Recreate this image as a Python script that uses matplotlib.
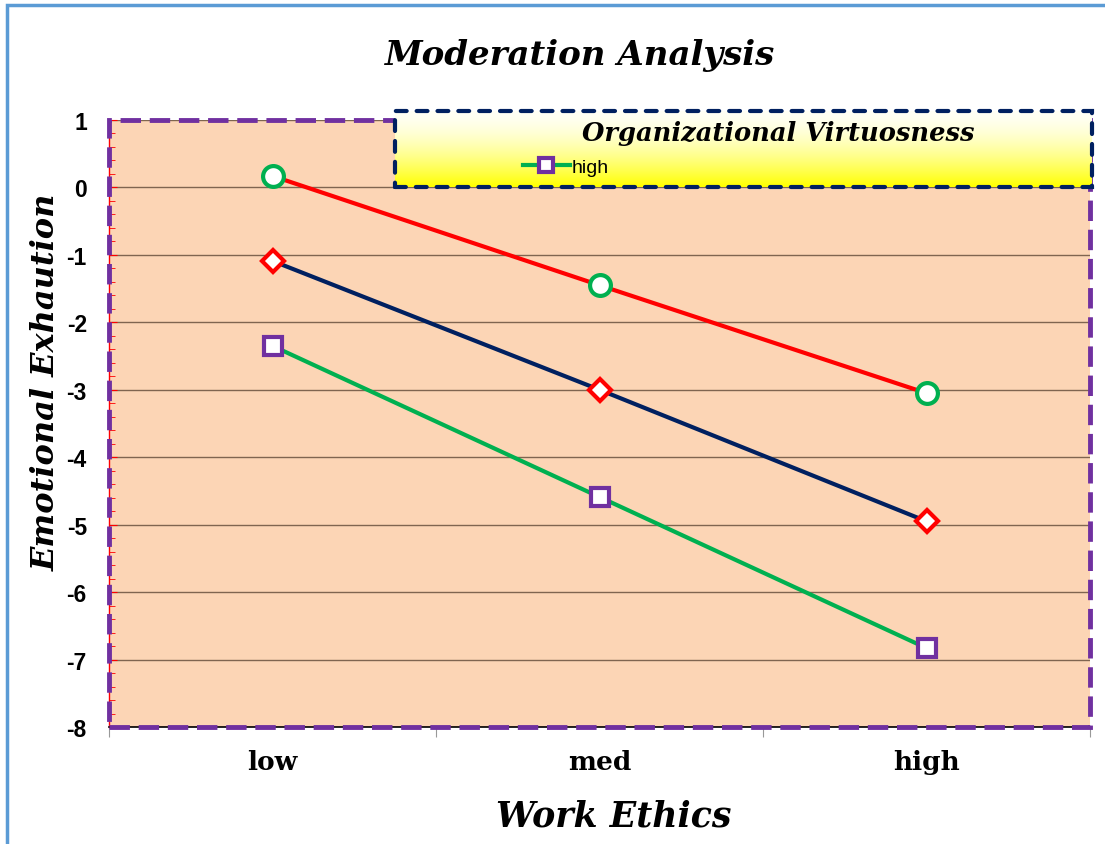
import matplotlib.pyplot as plt
import matplotlib.patches as patches
from matplotlib.colors import LinearSegmentedColormap
import numpy as np

# data
categories = ['low', 'med', 'high']
series_circle = [0.17, -1.45, -3.05]
series_diamond = [-1.09, -3.0, -4.95]
series_square = [-2.35, -4.59, -6.83]
y_ticks = [1, 0, -1, -2, -3, -4, -5, -6, -7, -8]
legend_title = 'Organizational Virtuosness'
legend_label = 'high'

serif = 'DejaVu Serif'
sans = 'Liberation Sans'

fig = plt.figure(figsize=(11.05, 8.45), dpi=100)
ax = fig.add_axes([109/1105, 1-728/845, (1090-109)/1105, (728-121)/845])
ax.set_facecolor('#FCD5B5')

x = np.arange(1, len(categories)+1)
ax.plot(x, series_circle, color='#FF0000', lw=3, marker='o', ms=15,
        mfc='white', mec='#00B050', mew=3, zorder=5)
ax.plot(x, series_diamond, color='#002060', lw=3, marker='D', ms=11.5,
        mfc='white', mec='#FF0000', mew=3, zorder=5)
sq, = ax.plot(x, series_square, color='#00B050', lw=3, marker='s', ms=13.5,
              mfc='white', mec='#7030A0', mew=3, zorder=5)

ax.set_xlim(0.5, 3.5)
ax.set_ylim(-8, 1)
ax.set_yticks(y_ticks)
ax.set_yticklabels([str(v) for v in y_ticks], fontfamily=sans, fontweight='bold', fontsize=16.5)
ax.set_yticks(np.arange(-8, 1.01, 0.2), minor=True)
ax.tick_params(axis='y', which='major', direction='in', length=6, color='#FF0000', pad=16)
ax.tick_params(axis='y', which='minor', direction='in', length=4, color='#FF0000')
ax.grid(axis='y', color='#7F6550', lw=1)
ax.set_axisbelow(True)

# category labels on minor ticks, boundaries on major ticks
ax.set_xticks([0.5, 1.5, 2.5, 3.5])
ax.set_xticklabels([])
ax.set_xticks(x, minor=True)
ax.set_xticklabels(categories, minor=True, fontfamily=serif, fontweight='bold', fontsize=19)
ax.tick_params(axis='x', which='major', direction='out', length=7, color='#999999')
ax.tick_params(axis='x', which='minor', length=0, pad=16)

for s in ['top', 'right']:
    ax.spines[s].set_visible(False)
ax.spines['left'].set_color('#FF0000')
ax.spines['left'].set_linewidth(1)
ax.spines['bottom'].set_color('black')
ax.spines['bottom'].set_linewidth(1.2)

# dashed purple plot-area border
ax.add_patch(patches.Rectangle((0, 0), 1, 1, transform=ax.transAxes, fill=False,
                               edgecolor='#7030A0', lw=3.5, ls=(0, (4.2, 1.8)),
                               clip_on=False, zorder=6))

ax.set_ylabel('Emotional Exhaution', fontfamily=serif, fontweight='bold',
              fontstyle='italic', fontsize=23)
ax.yaxis.set_label_coords(-0.048, 0.57)
ax.set_xlabel('Work Ethics', fontfamily=serif, fontweight='bold',
              fontstyle='italic', fontsize=25)
ax.xaxis.set_label_coords(0.515, -0.118)
fig.text(580/1105, 1-55/845, 'Moderation Analysis', ha='center', va='center',
         fontfamily=serif, fontweight='bold', fontstyle='italic', fontsize=24.5)

# legend box with yellow gradient
lax = fig.add_axes([395/1105, 1-188/845, (1092-395)/1105, 76/845], zorder=10)
grad = np.linspace(0, 1, 100).reshape(-1, 1) ** 1.6
cmap = LinearSegmentedColormap.from_list('yl', ['#FFFFF5', '#FFFF00'])
lax.imshow(grad, aspect='auto', cmap=cmap, extent=[0, 1, 0, 1], origin='upper')
lax.set_xlim(0, 1)
lax.set_ylim(0, 1)
lax.axis('off')
lax.add_patch(patches.Rectangle((0, 0), 1, 1, transform=lax.transAxes, fill=False,
                                edgecolor='#002060', lw=3, ls=(0, (2.6, 2.4)),
                                capstyle='round', clip_on=False))
lax.text(0.55, 0.72, legend_title, ha='center', va='center', fontfamily=serif,
         fontweight='bold', fontstyle='italic', fontsize=18.5)
lax.legend([sq], [legend_label], loc='center', bbox_to_anchor=(0.245, 0.26),
           frameon=False, handlelength=2.4, handletextpad=0.1, markerscale=0.7,
           prop={'family': sans, 'size': 14})

# outer blue chart border (cut off at right and bottom)
fig.patches.append(patches.Rectangle((7/1105, -0.1), 1.2, 1.1 - 6/845,
                                     transform=fig.transFigure, fill=False,
                                     edgecolor='#5B9BD5', lw=2.5))

fig.savefig('out.png', dpi=100)
